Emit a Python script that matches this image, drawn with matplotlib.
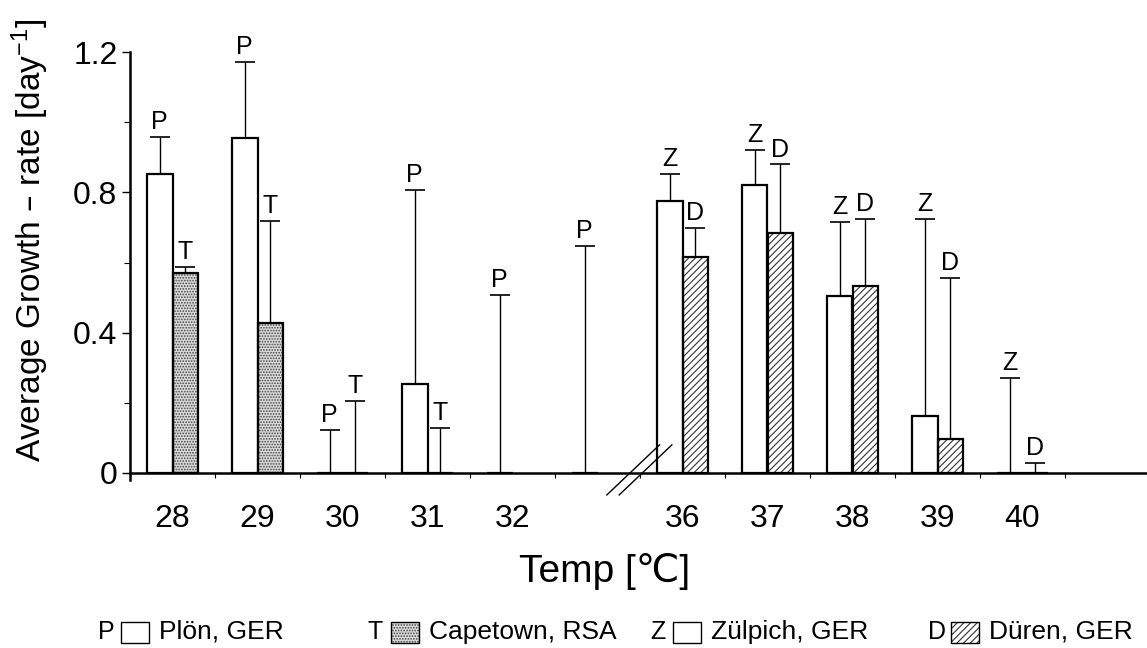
import numpy as np
import matplotlib.pyplot as plt
from matplotlib.patches import Rectangle

plt.rcParams['font.family'] = ['Liberation Sans', 'DejaVu Sans']
plt.rcParams['mathtext.default'] = 'regular'
plt.rcParams['hatch.linewidth'] = 0.8

# temperature slots along the axis (two blank slots: after 32 and after 40)
temps_low = ['28', '29', '30', '31', '32']
temps_high = ['36', '37', '38', '39', '40']
tick_labels = temps_low + [''] + temps_high + ['']

# Ploen (P): slots 0-5, Capetown (T): slots 0-3
plon_mean = [0.852, 0.955, 0.0, 0.252, 0.0, 0.0]
plon_sd = [0.107, 0.218, 0.121, 0.556, 0.508, 0.647]
cape_mean = [0.569, 0.426, 0.0, 0.0]
cape_sd = [0.018, 0.292, 0.205, 0.127]
# Zuelpich (Z) and Dueren (D): slots 6-10
zul_mean = [0.777, 0.820, 0.505, 0.161, 0.0]
zul_sd = [0.077, 0.101, 0.211, 0.563, 0.270]
dur_mean = [0.616, 0.685, 0.532, 0.095, 0.0]
dur_sd = [0.083, 0.195, 0.192, 0.461, 0.027]

letters = ['P', 'T', 'Z', 'D']
site_names = ['Plön, GER', 'Capetown, RSA', 'Zülpich, GER', 'Düren, GER']

fig = plt.figure(figsize=(11.47, 6.48), dpi=100)
ax = fig.add_axes([130 / 1147, 0.260, 1020 / 1147, 0.659])

w = 0.3
slots_low = np.arange(len(temps_low) + 1)
slots_high = np.arange(len(temps_high)) + len(temps_low) + 1

styles = {
    'P': dict(face='white', hatch=None, hcol='k'),
    'T': dict(face='#d9d9d9', hatch='......', hcol='#444444'),
    'Z': dict(face='white', hatch=None, hcol='k'),
    'D': dict(face='white', hatch='/////', hcol='#333333'),
}

series = [
    ('P', slots_low[:len(plon_mean)] - w / 2, plon_mean, plon_sd),
    ('T', slots_low[:len(cape_mean)] + w / 2, cape_mean, cape_sd),
    ('Z', slots_high - w / 2, zul_mean, zul_sd),
    ('D', slots_high + w / 2, dur_mean, dur_sd),
]

for let, x, m, sd in series:
    st = styles[let]
    m = np.array(m)
    sd = np.array(sd)
    # fill + hatch, then black outline on top
    ax.bar(x, m, width=w, color=st['face'], hatch=st['hatch'],
           edgecolor=st['hcol'], linewidth=0, zorder=2)
    ax.bar(x, m, width=w, fill=False, edgecolor='k', linewidth=1.6, zorder=3)
    ax.errorbar(x, m, yerr=[np.zeros_like(sd), sd], fmt='none', ecolor='k',
                elinewidth=1, capsize=7, capthick=1.2, zorder=4)
    for xi, top in zip(x, m + sd):
        ax.annotate(let, (xi, top), xytext=(0, 2), textcoords='offset points',
                    ha='center', va='bottom', fontsize=18)

ax.set_xlim(-0.5, len(tick_labels) - 0.5)
ax.set_ylim(-0.02, 1.2)
ax.spines['top'].set_visible(False)
ax.spines['right'].set_visible(False)
ax.spines['bottom'].set_position(('data', 0))
ax.spines['left'].set_linewidth(1.8)
ax.spines['bottom'].set_linewidth(1.8)

ax.set_xticks(np.arange(len(tick_labels)))
ax.set_xticklabels(tick_labels, fontsize=23)
ax.set_xticks(np.arange(len(tick_labels)) + 0.5, minor=True)
ax.tick_params(axis='x', which='major', length=0, pad=23)
ax.tick_params(axis='x', which='minor', length=3.5, width=0.8, direction='out')

ax.set_yticks([0, 0.4, 0.8, 1.2])
ax.set_yticklabels(['0', '0.4', '0.8', '1.2'], fontsize=23)
ax.set_yticks([0.2, 0.6, 1.0], minor=True)
ax.tick_params(axis='y', which='major', length=6, width=1, pad=3)
ax.tick_params(axis='y', which='minor', length=4, width=0.8)

# axis break between the two temperature ranges
bx = slots_high[0] - 0.58
for dx in (0.0, 0.145):
    ax.plot([bx - 0.31 + dx, bx + 0.31 + dx], [-0.064, 0.079], color='k',
            lw=1, clip_on=False, zorder=5)

fig.text(30 / 1147, 1 - 240 / 648, 'Average Growth – rate [day$^{-1}$]',
         rotation=90, ha='center', va='center', fontsize=24)
fig.text(605 / 1147, 1 - 571 / 648, 'Temp [℃]', ha='center', va='center',
         fontsize=28)

# legend row along the bottom
leg_x = [98, 368, 650, 928]
leg_y = 1 - 632 / 648
for lx, let, name in zip(leg_x, letters, site_names):
    st = styles[let]
    fig.text(lx / 1147, leg_y, let, ha='left', va='center', fontsize=18)
    fig.add_artist(Rectangle(((lx + 23) / 1147, leg_y - 10.5 / 648), 28 / 1147, 21 / 648,
                             transform=fig.transFigure, facecolor=st['face'],
                             hatch=st['hatch'], edgecolor=st['hcol'], linewidth=0))
    fig.add_artist(Rectangle(((lx + 23) / 1147, leg_y - 10.5 / 648), 28 / 1147, 21 / 648,
                             transform=fig.transFigure, fill=False,
                             edgecolor='k', linewidth=1))
    fig.text((lx + 61) / 1147, leg_y, name, ha='left', va='center', fontsize=19)

fig.savefig('out.png', dpi=100)
